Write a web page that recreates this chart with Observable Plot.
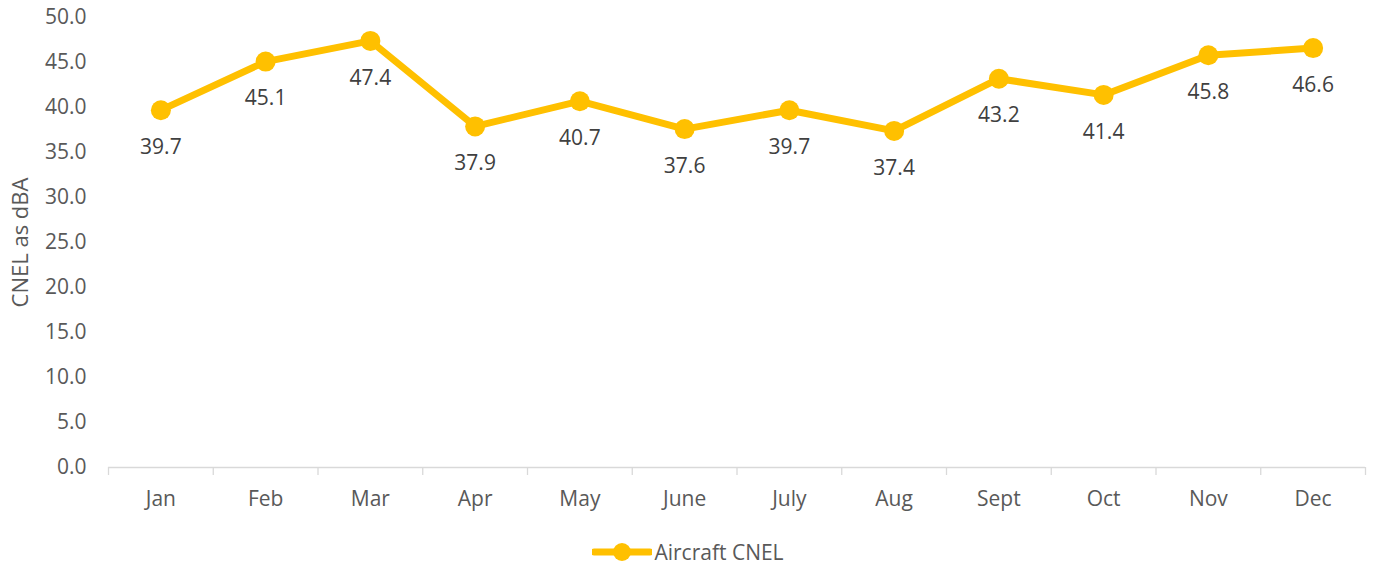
<!DOCTYPE html>
<html>
<head>
<meta charset="utf-8">
<script src="https://cdn.jsdelivr.net/npm/d3@7"></script>
<script src="https://cdn.jsdelivr.net/npm/@observablehq/plot@0.6"></script>
<style>
  html, body { margin: 0; padding: 0; background: #fff; }
  #chart { width: 1376px; }
  .legend { display: flex; justify-content: center; align-items: center; height: 40px; margin-top: 2px;
    font-family: "Open Sans", sans-serif; font-size: 21px; color: #595959; }
  .legend svg { margin-right: 2px; }
</style>
</head>
<body>
<div id="chart"></div>
<script>
const months = ["Jan", "Feb", "Mar", "Apr", "May", "June", "July", "Aug", "Sept", "Oct", "Nov", "Dec"];
const cnel = [39.7, 45.1, 47.4, 37.9, 40.7, 37.6, 39.7, 37.4, 43.2, 41.4, 45.8, 46.6];
const yTicks = [0, 5, 10, 15, 20, 25, 30, 35, 40, 45, 50];
const seriesName = "Aircraft CNEL";
const yTitle = "CNEL as dBA";

const data = months.map((m, i) => ({month: m, value: cnel[i]}));

const W = 1376, H = 530, mL = 108, mR = 11, mT = 17, mB = 63;
const step = (W - mL - mR) / months.length;
const color = "#FFC000";
const font = "\"Open Sans\", sans-serif";

const chart = Plot.plot({
  width: W,
  height: H,
  marginLeft: mL,
  marginRight: mR,
  marginTop: mT,
  marginBottom: mB,
  style: {fontFamily: font, fontSize: "21px", color: "#595959", background: "#fff"},
  x: {type: "band", domain: months, padding: 0, round: false},
  y: {domain: [0, 50]},
  marks: [
    Plot.axisY({ticks: yTicks, tickFormat: d3.format(".1f"), tickSize: 0, tickPadding: 22, label: null, fill: "#595959"}),
    Plot.axisX({tickSize: 0, tickPadding: 24, label: null, fill: "#595959"}),
    Plot.ruleY([0], {stroke: "#d9d9d9", strokeWidth: 1.3}),
    Plot.ruleX(months, {x: d => d, dx: -step / 2, y1: 0, y2: 0, insetBottom: -8, stroke: "#d9d9d9", strokeWidth: 1.3}),
    Plot.ruleX(months.slice(-1), {x: d => d, dx: step / 2, y1: 0, y2: 0, insetBottom: -8, stroke: "#d9d9d9", strokeWidth: 1.3}),
    Plot.text([yTitle], {frameAnchor: "left", textAnchor: "middle", rotate: -90, dx: -88, fill: "#595959", fontSize: 22}),
    Plot.line(data, {x: "month", y: "value", stroke: color, strokeWidth: 7, strokeLinejoin: "round"}),
    Plot.dot(data, {x: "month", y: "value", r: 10, fill: color, stroke: "none"}),
    Plot.text(data, {x: "month", y: "value", text: d => d3.format(".1f")(d.value), dy: 37, fill: "#404040", fontSize: 21})
  ]
});
document.getElementById("chart").append(chart);

const legend = document.createElement("div");
legend.className = "legend";
legend.innerHTML = `<svg width="60" height="22"><line x1="2" y1="11" x2="58" y2="11" stroke="${color}" stroke-width="7" stroke-linecap="round"/><circle cx="30" cy="11" r="9" fill="${color}"/></svg><span>${seriesName}</span>`;
document.body.append(legend);
</script>
</body>
</html>
